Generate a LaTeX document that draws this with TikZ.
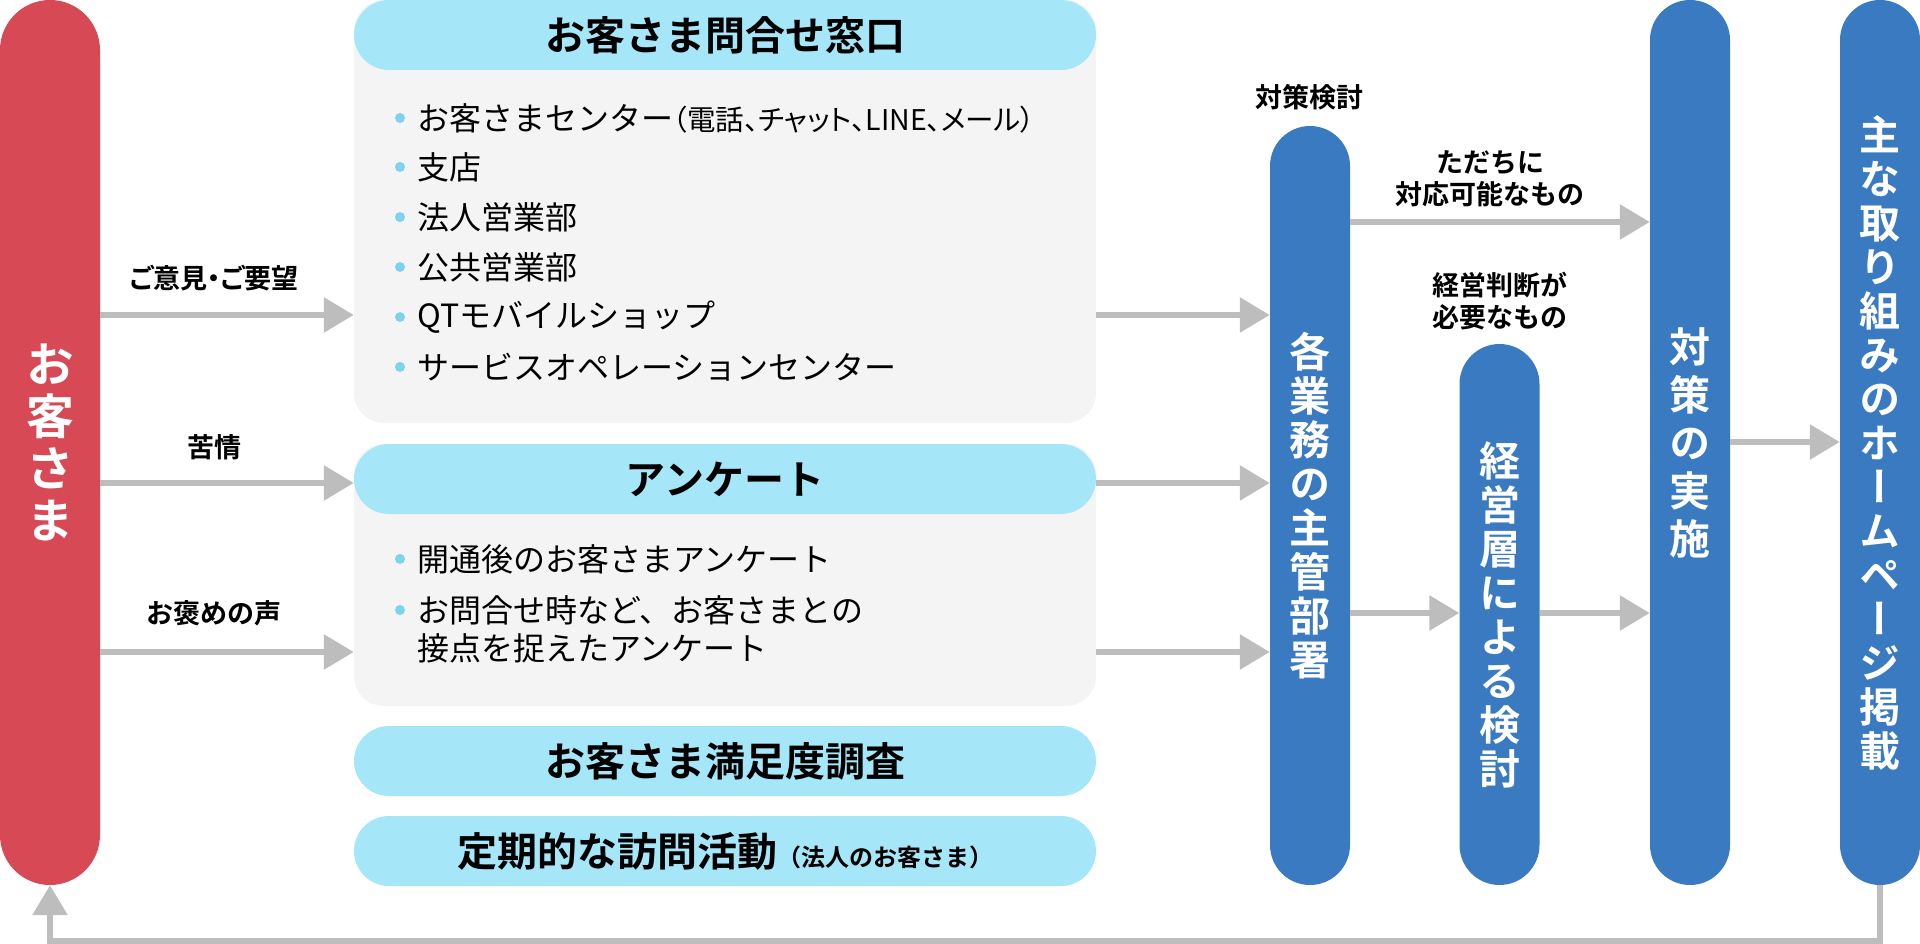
\documentclass[tikz,border=0pt]{standalone}
\usepackage{fontspec}
\setmainfont{Noto Sans CJK JP}[BoldFont={Noto Sans CJK JP Bold}]
\newfontfamily\vjp{Noto Sans CJK JP}[BoldFont={Noto Sans CJK JP Bold},RawFeature=+vert]
\newfontfamily\pjp{Noto Sans CJK JP}[BoldFont={Noto Sans CJK JP Bold},RawFeature=+palt]
\usepackage{tikz}
\usetikzlibrary{arrows.meta,positioning}
\definecolor{custred}{HTML}{D64955}
\definecolor{deptblue}{HTML}{3A7AC0}
\definecolor{headblue}{HTML}{A5E6F8}
\definecolor{bodygray}{HTML}{F4F4F4}
\definecolor{flowgray}{HTML}{BDBDBD}
\definecolor{dotblue}{HTML}{7DD3EE}

\begin{document}
\begin{tikzpicture}[x=1pt,y=-1pt,
  pill/.style={rounded corners=40pt,minimum width=80pt,inner sep=0pt,text=white,align=center},
  body/.style={fill=bodygray,rounded corners=30pt,minimum width=742pt,inner sep=0pt},
  head/.style={fill=headblue,rounded corners=35pt,minimum width=742pt,minimum height=70pt,inner sep=0pt,font=\bfseries\fontsize{40}{40}\selectfont},
  item/.style={anchor=west,inner sep=0pt,font=\fontsize{32}{32}\selectfont},
  lbl/.style={align=center,inner sep=0pt,font=\bfseries\fontsize{27}{32}\selectfont},
  flow/.style={draw=flowgray,line width=6pt,-{Triangle[length=30pt,width=34pt]}}]
\useasboundingbox (0,0) rectangle (1920,944);

\node[pill,fill=custred,minimum width=100pt,rounded corners=50pt,minimum height=885pt,font=\vjp\bfseries\fontsize{48}{52}\selectfont] (cust) at (50,442.5) {お\\客\\さ\\ま};

\node[body,minimum height=423pt] (contact) at (725,211.5) {};
\node[head] (contacthd) at (725,35) {お客さま問合せ窓口};
\foreach \y/\t [count=\i] in {118/{お客さまセンター{\pjp\fontsize{28.5}{28.5}\selectfont（電話、チャット、LINE、メール）}},167/支店,217/法人営業部,267/公共営業部,317/QTモバイルショップ,367/サービスオペレーションセンター}{
  \fill[dotblue] (400,\y) circle (5pt);
  \node[item] (ct\i) at (417,\y) {\t};
}

\node[body,minimum height=262pt] (survey) at (725,575) {};
\node[head] (surveyhd) at (725,479) {アンケート};
\fill[dotblue] (400,559) circle (5pt);
\node[item] (sv1) at (417,559) {開通後のお客さまアンケート};
\fill[dotblue] (400,610) circle (5pt);
\node[item] (sv2) at (417,610) {お問合せ時など、お客さまとの};
\node[item] (sv3) at (417,648) {接点を捉えたアンケート};

\node[head] (csat) at (725,761) {お客さま満足度調査};
\node[head] (visit) at (725,851) {定期的な訪問活動{\fontsize{24}{24}\selectfont（法人のお客さま）}};

\node[pill,fill=deptblue,minimum height=759pt,font=\vjp\bfseries\fontsize{41}{44}\selectfont] (dept) at (1310,505.5) {各\\業\\務\\の\\主\\管\\部\\署};
\node[pill,fill=deptblue,minimum height=541pt,font=\vjp\bfseries\fontsize{41}{44}\selectfont] (mgmt) at (1499.5,614.5) {経\\営\\層\\に\\よ\\る\\検\\討};
\node[pill,fill=deptblue,minimum height=885pt,font=\vjp\bfseries\fontsize{41}{48}\selectfont] (action) at (1690,442.5) {対\\策\\の\\実\\施};
\node[pill,fill=deptblue,minimum height=885pt,font=\vjp\bfseries\fontsize{41}{44}\selectfont] (web) at (1880,442.5) {主\\な\\取\\り\\組\\み\\の\\ホ\\ー\\ム\\ペ\\ー\\ジ\\掲\\載};

\node[lbl,font=\pjp\bfseries\fontsize{27}{32}\selectfont] (opinion) at (214,278) {ご意見・ご要望};
\node[lbl] (complaint) at (214,447) {苦情};
\node[lbl] (praise) at (214,613) {お褒めの声};
\node[lbl] (review) at (1309,97) {対策検討};
\node[lbl] (quick) at (1490,179) {ただちに\\対応可能なもの};
\node[lbl] (judge) at (1500,301) {経営判断が\\必要なもの};

\draw[flow] (cust.east |- 0,315) -- (contact.west |- 0,315);
\draw[flow] (cust.east |- 0,483) -- (survey.west |- 0,483);
\draw[flow] (cust.east |- 0,652) -- (survey.west |- 0,652);
\draw[flow] (contact.east |- 0,315) -- (dept.west |- 0,315);
\draw[flow] (survey.east |- 0,483) -- (dept.west |- 0,483);
\draw[flow] (survey.east |- 0,652) -- (dept.west |- 0,652);
\draw[flow] (dept.east |- 0,222) -- (action.west |- 0,222);
\draw[flow] (dept.east |- 0,613) -- (mgmt.west |- 0,613);
\draw[flow] (mgmt.east |- 0,613) -- (action.west |- 0,613);
\draw[flow] (action.east |- 0,442) -- (web.west |- 0,442);
\draw[flow] (web.south) -- ++(0,56) -| (cust.south);
\end{tikzpicture}
\end{document}
